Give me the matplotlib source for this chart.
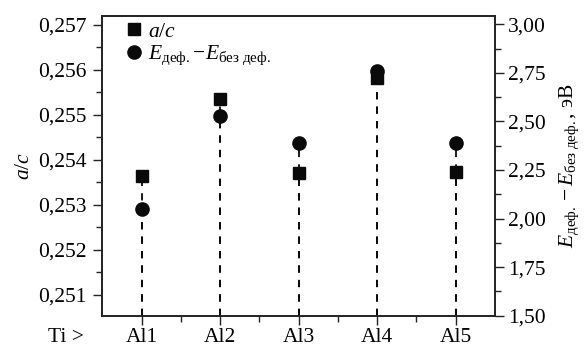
import matplotlib
matplotlib.use("Agg")
import matplotlib.pyplot as plt
from matplotlib.ticker import MultipleLocator, FixedLocator, FuncFormatter

plt.rcParams["font.family"] = ["Liberation Serif", "DejaVu Serif"]
plt.rcParams["mathtext.fontset"] = "custom"
plt.rcParams["mathtext.rm"] = "Liberation Serif"
plt.rcParams["mathtext.it"] = "Liberation Serif:italic"

sites = ["Al1", "Al2", "Al3", "Al4", "Al5"]
ratio_ac = [0.25365, 0.25536, 0.25370, 0.25582, 0.25374]
energy = [2.05, 2.53, 2.39, 2.76, 2.39]

pos = list(range(1, len(sites) + 1))
col = "#0a0a0a"
fs = 15.5

fig = plt.figure(figsize=(5.86, 3.5), dpi=100)
ax = fig.add_axes([0.1746, 0.098, 0.8447 - 0.1746, 0.9557 - 0.098])
ax2 = ax.twinx()

ylo, yhi = 0.25054, 0.25721
elo, ehi = 1.50, 3.045
ax.set_ylim(ylo, yhi)
ax2.set_ylim(elo, ehi)
ax.set_xlim(0.5, 5.5)

# dashed drop lines down to the bottom axis
ax.vlines(pos, ylo, ratio_ac, colors=col, linestyles=(0, (4, 4)), linewidth=1.3, zorder=1)
ax2.vlines(pos, elo, energy, colors=col, linestyles=(0, (4, 4)), linewidth=1.3, zorder=1)

h1, = ax.plot(pos, ratio_ac, "s", color=col, markersize=8.5, linestyle="none", zorder=3,
              label=r"$\mathit{a}/\mathit{c}$")
h2, = ax2.plot(pos, energy, "o", color=col, markersize=9.5, linestyle="none", zorder=3,
               label=r"$E_{\mathrm{деф.}}\!-\!E_{\mathrm{без\ деф.}}$")

ax2.legend([h1, h2], [h1.get_label(), h2.get_label()], loc="upper left",
           bbox_to_anchor=(0.01, 1.03), frameon=False, fontsize=fs,
           handletextpad=0.05, handlelength=1.2, labelspacing=0.1, borderaxespad=0.3)

comma2 = FuncFormatter(lambda v, p: f"{v:.3f}".replace(".", ","))
comma_e = FuncFormatter(lambda v, p: f"{v:.2f}".replace(".", ","))

ax.yaxis.set_major_locator(MultipleLocator(0.001))
ax.yaxis.set_minor_locator(MultipleLocator(0.0005))
ax.yaxis.set_major_formatter(comma2)
ax2.yaxis.set_major_locator(MultipleLocator(0.25))
ax2.yaxis.set_minor_locator(MultipleLocator(0.125))
ax2.yaxis.set_major_formatter(comma_e)

ax.set_xticks(pos)
ax.set_xticklabels(sites)
ax.xaxis.set_minor_locator(FixedLocator([1.5, 2.5, 3.5, 4.5]))

for a in (ax, ax2):
    a.tick_params(which="major", direction="out", length=6.5, width=1.0, labelsize=fs,
                  colors="#222222", labelcolor="black")
    a.tick_params(which="minor", direction="out", length=4, width=1.0, colors="#222222")
    for s in a.spines.values():
        s.set_linewidth(1.2)
        s.set_color("#222222")
ax.tick_params(axis="y", pad=5)
ax2.tick_params(axis="y", pad=3)
ax.tick_params(axis="x", pad=2.5)

ax.annotate("Ti >", xy=(0.27, 0), xycoords=("data", "axes fraction"),
            xytext=(0, -9), textcoords="offset points", ha="right", va="top",
            fontsize=fs, annotation_clip=False)

ax.set_ylabel(r"$\mathit{a}/\mathit{c}$", fontsize=fs, labelpad=3)
ax2.set_ylabel(r"$E_{\mathrm{деф.}}-E_{\mathrm{без\ деф.}}$, эВ", fontsize=fs, labelpad=8)

fig.savefig("out.png", dpi=100)
